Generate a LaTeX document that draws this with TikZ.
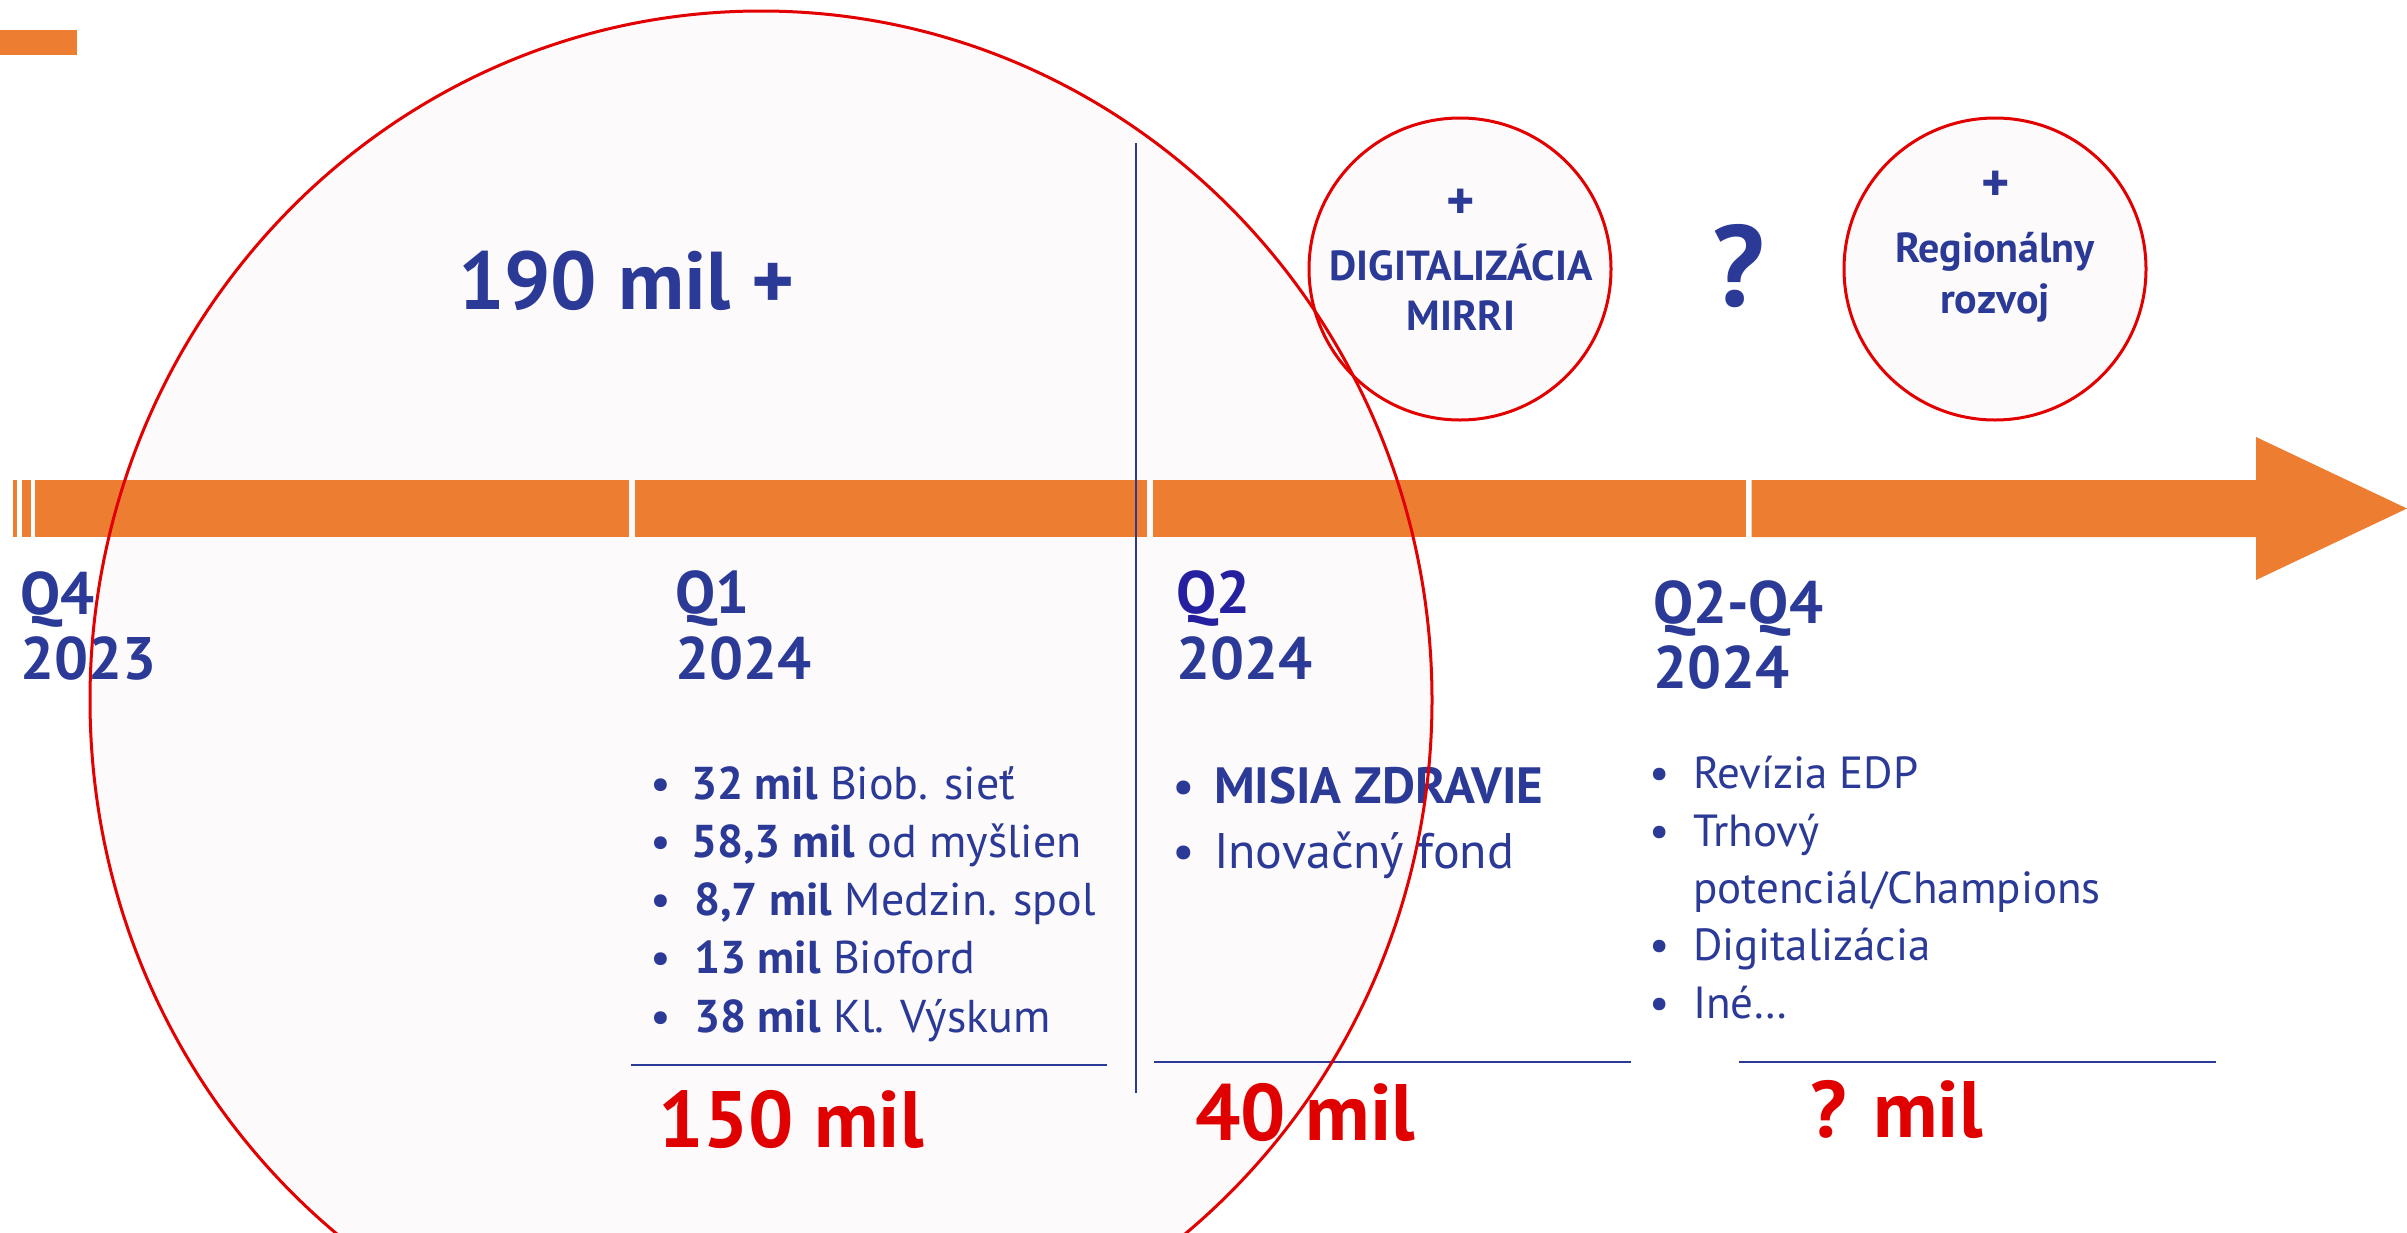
\documentclass[tikz,border=0pt]{standalone}
\usepackage{fontspec}
\setmainfont{PT Sans}
\definecolor{navy}{RGB}{43,58,150}
\definecolor{violet}{RGB}{36,32,160}
\definecolor{barorange}{RGB}{237,125,49}
\definecolor{redtxt}{RGB}{224,0,0}
\definecolor{redline}{RGB}{226,0,0}
\definecolor{pinkfill}{RGB}{253,250,251}
\newcommand\myfs[1]{\fontsize{#1pt}{#1pt}\selectfont}
\begin{document}
\begin{tikzpicture}[x=1pt,y=-1pt,
  txt/.style={inner sep=0pt, outer sep=0pt, anchor=base west, text=navy},
  ctxt/.style={inner sep=0pt, outer sep=0pt, anchor=base, text=navy},
  qlab/.style={txt, font=\myfs{60}\bfseries},
  lista/.style={txt, font=\myfs{46}},
  listb/.style={txt, font=\myfs{50}},
  listc/.style={txt, font=\myfs{45}},
  amount/.style={txt, text=redtxt, font=\myfs{80}\bfseries},
  circtxt/.style={ctxt, font=\myfs{42}\bfseries},
  bar/.style={fill=barorange, draw=none},
  ring/.style={draw=redline, line width=3pt},
  rule/.style={draw=navy, line width=2.5pt}
]
\useasboundingbox[fill=white] (0,0) rectangle (2407,1232);
% fills
\fill[pinkfill] (761,700) ellipse [x radius=671pt, y radius=689pt];
\fill[pinkfill] (1460,269) circle [radius=151pt];
\fill[pinkfill] (1995,269) circle [radius=151pt];
% corner mark
\fill[barorange] (0,30) rectangle (77,55);
% timeline bar
\fill[bar] (12.5,480) rectangle (17,537);
\fill[bar] (21.5,480) rectangle (30.5,537);
\fill[bar] (35,480) rectangle (628.5,537);
\fill[bar] (634.5,480) rectangle (1146.5,537);
\fill[bar] (1152.5,480) rectangle (1745.5,537);
\fill[bar] (1751.5,480) -- (2256,480) -- (2256,437) -- (2407,508.5) -- (2256,580) -- (2256,537) -- (1751.5,537) -- cycle;
% divider and rules
\draw[draw=navy, line width=2pt] (1136,143) -- (1136,1093);
\draw[rule] (631,1065) -- (1107,1065);
\draw[rule] (1154,1062) -- (1631,1062);
\draw[rule] (1739,1062) -- (2216,1062);
% headline
\node[txt, font=\myfs{82}\bfseries] (total) at (458,309) {190 mil +};
% circles text
\node[ctxt, font=\myfs{54}\bfseries] (plusA) at (1461,219) {+};
\node[circtxt] (digA) at (1461,280) {DIGITALIZÁCIA};
\node[circtxt] (mirri) at (1461,330) {MIRRI};
\node[ctxt, font=\myfs{115}\bfseries] (qmark) at (1739,306) {?};
\node[ctxt, font=\myfs{54}\bfseries] (plusB) at (1996,201) {+};
\node[circtxt] (regA) at (1995,262) {Regionálny};
\node[circtxt] (regB) at (1995,313) {rozvoj};
% quarter labels
\node[qlab] (q4) at (20,614) {Q4};
\node[qlab] (y23) at (20,679) {2023};
\node[qlab] (q1) at (675,613) {Q1};
\node[qlab] (y24a) at (675,679) {2024};
\node[qlab, text=violet] (q2) at (1176,613) {Q2};
\node[qlab] (y24b) at (1176,679) {2024};
\node[qlab] (q24) at (1653,623) {Q2-Q4};
\node[qlab] (y24c) at (1653,688) {2024};
% list 1
\foreach \b/\n in {799/1,857/2,915/3,973/4,1032/5}
  \node[ctxt, font=\myfs{46}] (bA\n) at (661,\b) {•};
\node[lista] (iA1) at (691,799) {\textbf{32 mil} Biob. sieť};
\node[lista] (iA2) at (691,857) {\textbf{58,3 mil} od myšlien};
\node[lista] (iA3) at (694,915) {\textbf{8,7 mil} Medzin. spol};
\node[lista] (iA4) at (694,973) {\textbf{13 mil} Bioford};
\node[lista] (iA5) at (694,1032) {\textbf{38 mil} Kl. Výskum};
\node[amount] (sumA) at (658,1147) {150 mil};
% list 2
\node[ctxt, font=\myfs{50}] (bB1) at (1184,803) {•};
\node[ctxt, font=\myfs{50}] (bB2) at (1184,868) {•};
\node[listb, font=\myfs{51}\bfseries] (iB1) at (1214,803) {MISIA ZDRAVIE};
\node[listb] (iB2) at (1214,868) {Inovačný fond};
\node[amount] (sumB) at (1195,1140) {40 mil};
% list 3
\foreach \b/\n in {788/1,846/2,960/3,1018/4}
  \node[ctxt, font=\myfs{45}] (bC\n) at (1660,\b) {•};
\node[listc] (iC1) at (1693,788) {Revízia EDP};
\node[listc] (iC2) at (1693,846) {Trhový};
\node[listc] (iC2b) at (1693,903) {potenciál/Champions};
\node[listc] (iC3) at (1693,960) {Digitalizácia};
\node[listc] (iC4) at (1693,1018) {Iné…};
\node[amount] (sumC) at (1810,1137) {? mil};
% strokes on top
\draw[ring] (761,700) ellipse [x radius=671pt, y radius=689pt];
\draw[ring] (1460,269) circle [radius=151pt];
\draw[ring] (1995,269) circle [radius=151pt];
\end{tikzpicture}
\end{document}
